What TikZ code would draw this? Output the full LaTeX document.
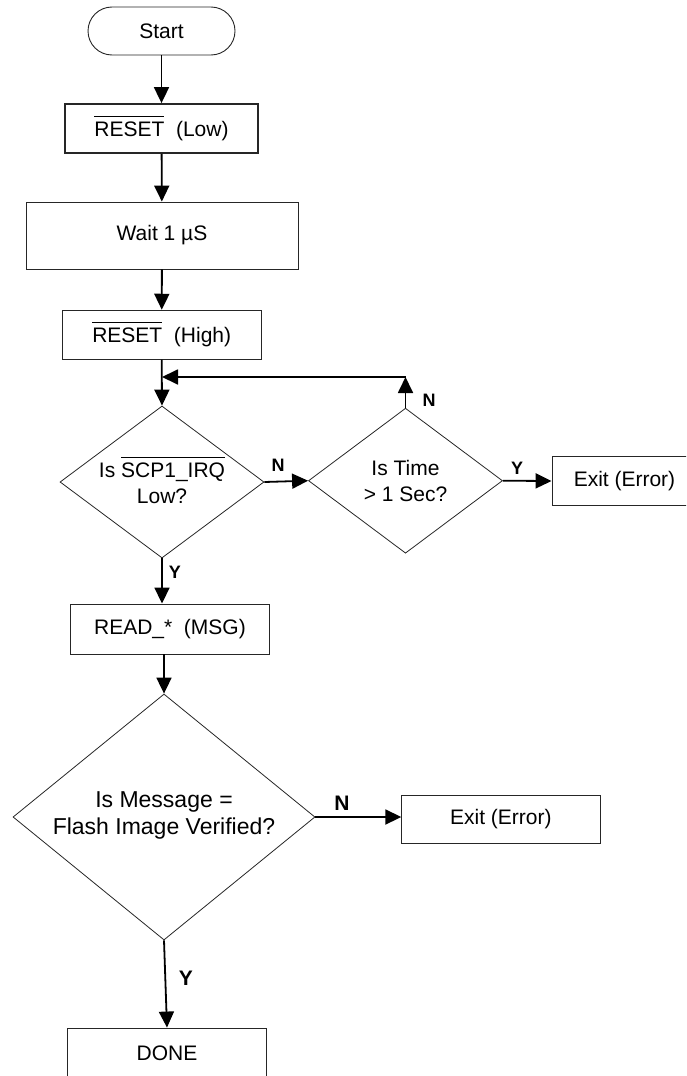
\documentclass[tikz,border=0pt]{standalone}
\usepackage{fontspec}
\setmainfont{Liberation Sans}
\usetikzlibrary{arrows.meta,shapes.geometric,calc}

% active-low signal name with a bar set well above the capitals
\newcommand{\barsig}[1]{\leavevmode\vbox{\hrule height 1pt\kern 5pt\hbox{#1}}}

\begin{document}
\begin{tikzpicture}[x=1pt,y=-1pt,
  box/.style={draw=black!85, line width=0.9pt, rectangle, inner sep=0pt,
    font=\fontsize{21}{25}\selectfont},
  terminal/.style={box, rounded corners=24pt},
  decision/.style={draw=black!85, line width=0.8pt, diamond, inner sep=0pt},
  dtext/.style={align=center, inner sep=0pt, font=\fontsize{21}{26}\selectfont},
  flow/.style={line width=1.8pt, -{Triangle[length=16pt,width=15pt]}},
  tag/.style={font=\bfseries\fontsize{18}{18}\selectfont, inner sep=0pt},
  bigtag/.style={font=\bfseries\fontsize{21}{21}\selectfont, inner sep=0pt},
]
\useasboundingbox (0,0) rectangle (686,1076);
\clip (0,0) rectangle (686,1076);

% main column
\node[terminal, minimum width=147pt, minimum height=48pt] (start) at (161.5,31) {Start};
\node[box, line width=1.8pt, minimum width=193pt, minimum height=49pt] (rlow) at (161.5,128.5)
  {\barsig{RESET}\ \ (Low)};
\node[box, minimum width=272pt, minimum height=67pt] (wait) at (162,235.5) {Wait 1 µS};
\node[box, minimum width=199pt, minimum height=49pt] (rhigh) at (161.7,334.7)
  {\barsig{RESET}\ \ (High)};

% IRQ poll with timeout
\node[decision, minimum width=204pt, minimum height=152pt] (d1) at (162,482) {};
\node[dtext] (d1t) at ($(d1.center)+(0,-2)$) {Is \barsig{SCP1\_IRQ}\\Low?};
\node[decision, minimum width=194pt, minimum height=145pt] (d2) at (405.5,480.7) {};
\node[dtext] (d2t) at (d2.center) {Is Time\\> 1 Sec?};
\node[box, minimum width=145pt, minimum height=48.6pt] (exit1) at (624.5,481) {Exit (Error)};

\node[box, minimum width=198.6pt, minimum height=50pt] (read) at (170,629) {READ\_*\ \ (MSG)};

% message check
\node[decision, minimum width=302pt, minimum height=246pt] (d3) at (164,817) {};
\node[dtext, font=\fontsize{23}{27}\selectfont] (d3t) at ($(d3.center)+(0,-2)$)
  {Is Message =\\Flash Image Verified?};
\node[box, minimum width=198.3pt, minimum height=48.3pt] (exit2) at (500.9,819.2) {Exit (Error)};
\node[box, minimum width=198.3pt, minimum height=50pt] (done) at (167,1053) {DONE};

% connectors
\draw[flow] (start) -- (rlow);
\draw[flow] (rlow) -- (wait);
\draw[flow] (wait) -- (rhigh);
\draw[flow] (rhigh.south) -- (d1.north);

\coordinate (loopup) at (d2.north |- 0,377);
\coordinate (loopin) at (d1.north |- 0,377);
\draw[flow] (d2.north) -- (loopup);
\draw[flow] (loopup) -- (loopin);
\node[tag] (n2) at (429,400) {N};

\draw[flow] (d1.east) -- (d2.west);
\node[tag] (n1) at (278,465) {N};
\draw[flow] (d2.east) -- (exit1.west);
\node[tag] (y2) at (517,468) {Y};

\draw[flow] (d1.south) -- (d1.south |- read.north);
\node[tag] (y1) at (175,572) {Y};

\draw[flow] (d3.north |- read.south) -- (d3.north);
\draw[flow] (d3.east) -- (d3.east -| exit2.west);
\node[bigtag] (n3) at (342,803) {N};
\draw[flow] (d3.south) -- (done.north);
\node[bigtag] (y3) at (186,978) {Y};
\end{tikzpicture}
\end{document}
